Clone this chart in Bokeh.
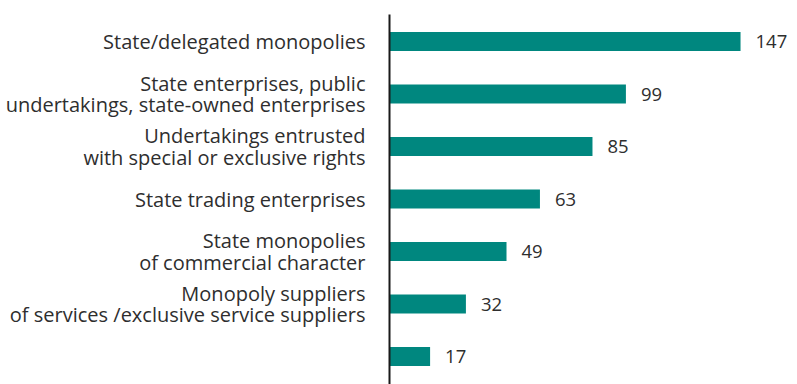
from bokeh.plotting import figure
from bokeh.models import Range1d, ColumnDataSource
from bokeh.core.properties import value
from bokeh.embed import file_html
from bokeh.resources import INLINE

categories = [
    "State/delegated monopolies",
    "State enterprises, public\nundertakings, state-owned enterprises",
    "Undertakings entrusted\nwith special or exclusive rights",
    "State trading enterprises",
    "State monopolies\nof commercial character",
    "Monopoly suppliers\nof services /exclusive service suppliers",
    "",
]
values = [147, 99, 85, 63, 49, 32, 17]

n = len(categories)
ypos = [n - 1 - i for i in range(n)]
src = ColumnDataSource(dict(y=ypos, v=values, cat=categories,
                            lbl=[str(v) for v in values]))

W, H = 797, 384
px_per_unit = 2.388
x0_px = 389
row_px = 52.5
top_px = 41

p = figure(width=W, height=H, output_backend="svg", toolbar_location=None,
           x_range=Range1d(-x0_px / px_per_unit, (W - x0_px) / px_per_unit),
           y_range=Range1d((n - 1) + top_px / row_px - H / row_px, (n - 1) + top_px / row_px),
           min_border=0, x_axis_location=None, y_axis_location=None)
p.outline_line_color = None
p.xgrid.visible = False
p.ygrid.visible = False
p.background_fill_color = "white"
p.border_fill_color = "white"

p.hbar(y="y", left=0, right="v", height=19 / row_px, source=src,
       fill_color="#00877f", line_color=None)

y_top = (n - 1) + top_px / row_px - 14 / row_px
y_bot = (n - 1) + top_px / row_px - H / row_px
p.line(x=[0, 0], y=[y_top, y_bot], line_color="#1a1a1a", line_width=2)

p.text(x=0, y="y", text="cat", source=src, x_offset=-24,
       text_align="right", text_baseline="middle",
       text_font=value("Open Sans"), text_font_size="20px",
       text_color="#2e2e2e", text_line_height=0.8)

p.text(x="v", y="y", text="lbl", source=src, x_offset=15,
       text_align="left", text_baseline="middle",
       text_font=value("Open Sans"), text_font_size="18.5px",
       text_color="#2e2e2e")

open("out.html", "w").write(file_html(p, INLINE))
